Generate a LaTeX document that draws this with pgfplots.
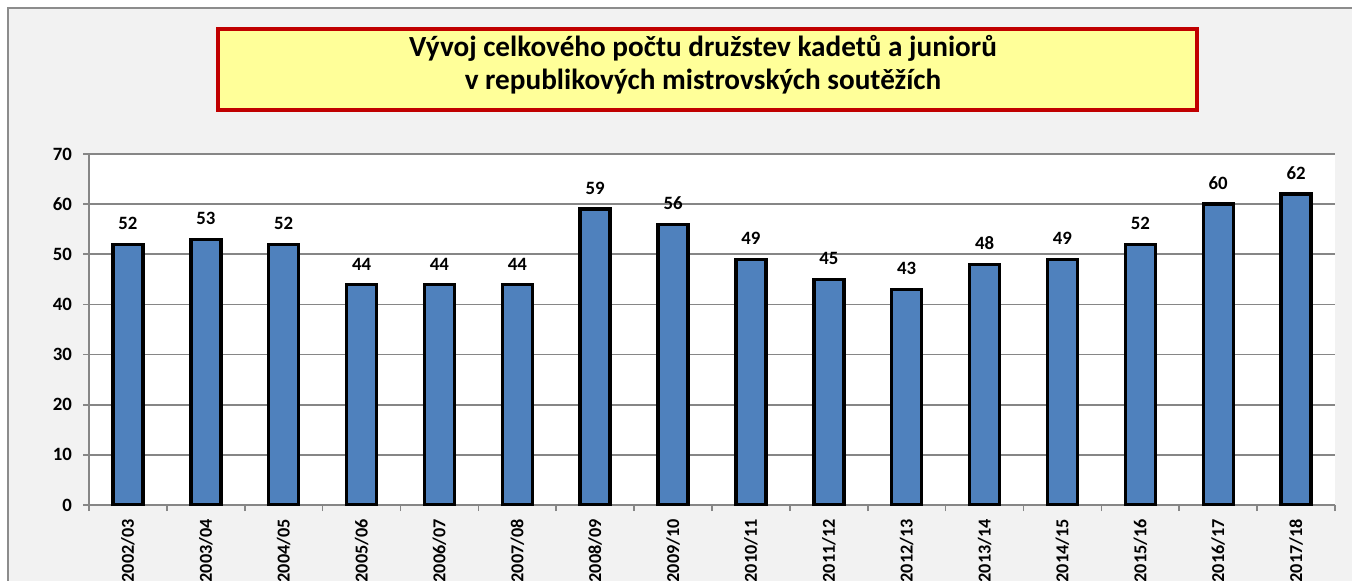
\documentclass[border=0pt]{standalone}
\usepackage{pgfplots}
\pgfplotsset{compat=1.18}
\usepackage{fontspec}
\setmainfont{Carlito}
\definecolor{bggray}{HTML}{F2F2F2}
\definecolor{bordergray}{HTML}{8C8C8C}
\definecolor{gridgray}{HTML}{868686}
\definecolor{titleyellow}{HTML}{FFFF99}
\definecolor{titlered}{HTML}{C00000}
\definecolor{barblue}{HTML}{4F81BD}
\begin{document}
\begin{tikzpicture}
\path[use as bounding box] (0,0) rectangle (676pt,-290.5pt);
\clip (0,0) rectangle (676pt,-290.5pt);
\begin{scope}[x=0.5pt,y=-0.5pt]
\fill[white] (0,0) rectangle (1352,581);
\draw[fill=bggray, draw=bordergray, line width=0.8pt] (8,8) rectangle (1450,700);
\draw[fill=titleyellow, draw=titlered, line width=2pt] (218,29) rectangle (1197,110);
\node[font=\bfseries\fontsize{14.6}{16.5}\selectfont, align=center] at (703,64.5) {Vývoj celkového počtu družstev kadetů a juniorů\\ v republikových mistrovských soutěžích};
\end{scope}
\begin{axis}[
  scale only axis, width=623pt, height=175.5pt,
  at={(44.5pt,-252.5pt)}, anchor=south west,
  xmin=-0.5, xmax=15.5, ymin=0, ymax=70,
  ytick={0,10,...,70},
  xtick={0,...,15},
  xticklabels={2002/03,2003/04,2004/05,2005/06,2006/07,2007/08,2008/09,2009/10,2010/11,2011/12,2012/13,2013/14,2014/15,2015/16,2016/17,2017/18},
  minor xtick={-0.5,0.5,...,15.5},
  axis x line*=bottom, axis y line*=left,
  axis line style={draw=gridgray, line width=0.8pt, -},
  ymajorgrids, major grid style={draw=gridgray, line width=0.8pt},
  tick align=outside,
  major tick length=3pt, minor tick length=3pt,
  major x tick style={draw=none},
  minor x tick style={draw=gridgray, line width=0.8pt},
  y tick style={draw=gridgray, line width=0.8pt},
  axis background/.style={fill=white},
  ybar, bar width=15pt,
  nodes near coords,
  nodes near coords style={font=\bfseries\fontsize{9.4}{11}\selectfont, yshift=3pt, text=black},
  xticklabel shift=0.6pt, yticklabel shift=2pt,
  xticklabel style={rotate=90, anchor=east, font=\bfseries\fontsize{9.1}{11}\selectfont},
  yticklabel style={font=\bfseries\fontsize{9.4}{11}\selectfont},
  /pgf/number format/assume math mode=true,
]
\addplot[fill=barblue, draw=black, line width=1.7pt] coordinates {
(0,52) (1,53) (2,52) (3,44) (4,44) (5,44) (6,59) (7,56) (8,49) (9,45) (10,43) (11,48) (12,49) (13,52) (14,60) (15,62)};
\end{axis}
\end{tikzpicture}
\end{document}
